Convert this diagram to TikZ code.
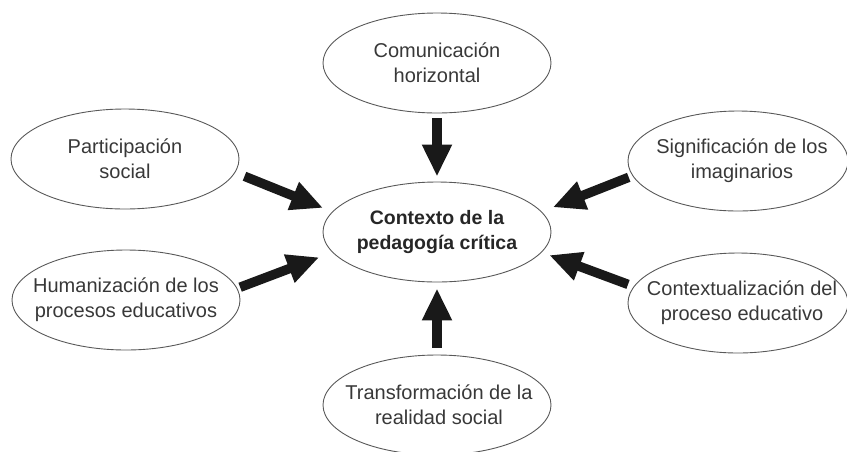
\documentclass[tikz,border=0pt]{standalone}
\usepackage{fontspec}
\setmainfont{Liberation Sans}
\usetikzlibrary{shapes.geometric,arrows.meta}
\begin{document}
\begin{tikzpicture}[x=1pt,y=-1pt,
  bub/.style={ellipse, draw=black!65, line width=0.9pt, minimum width=228pt, minimum height=100pt, inner sep=0pt},
  txt/.style={align=center, font=\fontsize{20}{25}\selectfont, text=black!78, inner sep=0pt},
  ctxt/.style={align=center, font=\fontsize{19.5}{25}\selectfont\bfseries, text=black!85, inner sep=0pt},
  arr/.style={line width=9.5pt, -{Triangle[width=28pt,length=32pt]}, black!90}]
\useasboundingbox (0,0) rectangle (847,451);
% ellipses
\node[bub] (t) at (437,63) {};
\node[txt] (tt) at (t) {Comunicación\\horizontal};
\node[bub] (c) at (437,232) {};
\node[ctxt] (ct) at (c) {Contexto de la\\pedagogía crítica};
\node[bub] (ps) at (125,159) {};
\node[txt] (pst) at (ps) {Participación\\social};
\node[bub] (hu) at (126,300) {};
\node[txt] (hut) at (hu) {Humanización de los\\procesos educativos};
\node[bub, minimum width=220pt] (si) at (738,161) {};
\node[txt] (sit) at (742,161) {Significación de los\\imaginarios};
\node[bub, minimum width=220pt] (co) at (738,303) {};
\node[txt] (cot) at (742,303) {Contextualización del\\proceso educativo};
\node[bub] (b) at (437,405) {};
\node[txt] (bt) at (439,405) {Transformación de la\\realidad social};
% arrows
\draw[arr, shorten <=5pt, shorten >=5pt] (t.south) -- (c.north);
\draw[arr, shorten <=7pt, shorten >=6pt] (b.north) -- (c.south);
\draw[arr, shorten <=10pt, shorten >=10pt] (ps.-7.7) -- (c.169);
\draw[arr, shorten <=3pt, shorten >=14pt] (hu.6) -- (c.191);
\draw[arr, shorten <=4pt, shorten >=12pt] (si.188.4) -- (c.11.3);
\draw[arr, shorten <=6pt, shorten >=8pt] (co.171.8) -- (c.-11.7);
\end{tikzpicture}
\end{document}
